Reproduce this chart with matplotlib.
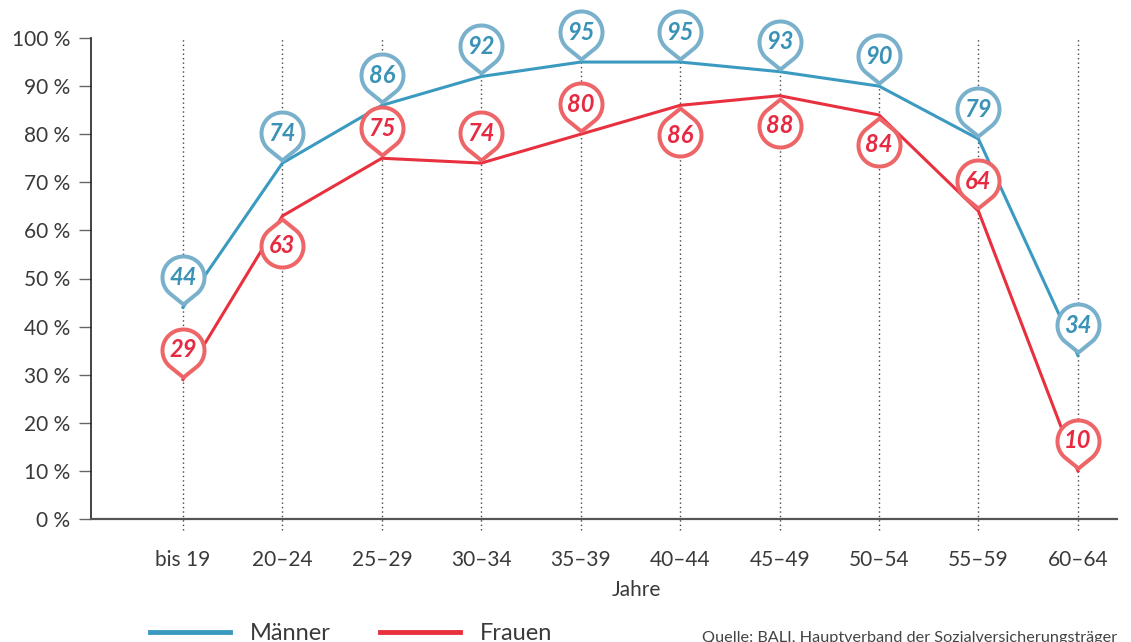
import numpy as np
import matplotlib.pyplot as plt
from matplotlib.path import Path
from matplotlib.markers import MarkerStyle

# =============================
# DATA
# =============================
categories = ["bis 19", "20–24", "25–29", "30–34", "35–39",
              "40–44", "45–49", "50–54", "55–59", "60–64"]
maenner = [44, 74, 86, 92, 95, 95, 93, 90, 79, 34]
frauen = [29, 63, 75, 74, 80, 86, 88, 84, 64, 10]

# pin direction for Frauen labels: True = pin sits below the line
frauen_below = [False, True, False, False, False, True, True, True, False, False]

# =============================
# STYLE
# =============================
BLUE_LINE = "#3b9ac0"
BLUE_PIN = "#79b0cc"
BLUE_TEXT = "#3a93b7"
RED_LINE = "#e8303f"
RED_PIN = "#ee6567"
RED_TEXT = "#e62a41"
TXT = "#3a3a3a"

PX = 0.72  # points per pixel at dpi 100
plt.rcParams["font.family"] = ["Lato", "DejaVu Sans"]

# pin geometry in pixels
PIN_R = 21.0      # circle radius (middle of border)
PIN_TIP = 27.0    # centre -> tip
PIN_C = 30.0      # data point -> centre
PIN_EDGE = 4.0


def pin_marker(below=False):
    # teardrop pin, origin = data point, tip pointing at it
    th = np.degrees(np.arccos(PIN_R / PIN_TIP))
    ang = np.radians(np.linspace(-90 + th, 270 - th, 90))
    verts = [(PIN_R * np.cos(a), PIN_C + PIN_R * np.sin(a)) for a in ang]
    verts.append((0, PIN_C - PIN_TIP))
    verts.append(verts[0])
    verts = np.array(verts)
    if below:
        verts[:, 1] *= -1
    codes = [Path.MOVETO] + [Path.LINETO] * (len(verts) - 2) + [Path.CLOSEPOLY]
    return MarkerStyle(Path(verts, codes), joinstyle="round")


PIN_SIZE = 2 * (PIN_C + PIN_R) * PX
PIN_OFF = PIN_C * PX

fig = plt.figure(figsize=(11.31, 6.42), dpi=100)
ax = fig.add_axes([91 / 1131, 1 - 519 / 642, (1117 - 91) / 1131, (519 - 38) / 642])

x = np.arange(len(categories))

# dotted guides
for xi in x:
    ax.plot([xi, xi], [-2.3, 100], ls=(0, (1, 2.2)), color="#444444", lw=1.0,
            clip_on=False, zorder=1)

ax.plot(x, maenner, color=BLUE_LINE, lw=2.2, zorder=3, label="Männer")
ax.plot(x, frauen, color=RED_LINE, lw=2.2, zorder=3, label="Frauen")


def draw_pins(vals, below_flags, pin_col, txt_col):
    for xi, v, below in zip(x, vals, below_flags):
        ax.plot(xi, v, marker=pin_marker(below), markersize=PIN_SIZE,
                mfc="white", mec=pin_col, mew=PIN_EDGE * PX, zorder=5,
                ls="none", clip_on=False)
        off = -PIN_OFF if below else PIN_OFF
        ax.annotate(str(v), (xi, v), xytext=(0, off), textcoords="offset points",
                    ha="center", va="center", color=txt_col, fontsize=17,
                    fontweight="bold", fontstyle="italic", zorder=6,
                    annotation_clip=False)


draw_pins(maenner, [False] * len(maenner), BLUE_PIN, BLUE_TEXT)
draw_pins(frauen, frauen_below, RED_PIN, RED_TEXT)

# =============================
# AXES
# =============================
ax.set_xlim(-0.925, 9.393)
ax.set_ylim(0, 100)

ax.set_yticks(range(0, 101, 10))
ax.set_yticklabels([f"{t} %" for t in range(0, 101, 10)])
ax.tick_params(axis="y", length=9, width=1, color="#666666", pad=6,
               labelsize=15, labelcolor=TXT)

ax.set_xticks(x)
ax.set_xticklabels(categories)
ax.tick_params(axis="x", length=0, pad=22, labelsize=15, labelcolor=TXT)

for s in ["top", "right"]:
    ax.spines[s].set_visible(False)
ax.spines["left"].set_color("#222222")
ax.spines["left"].set_linewidth(1.2)
ax.spines["bottom"].set_color("#555555")
ax.spines["bottom"].set_linewidth(1.6)

fig.text(636 / 1131, 1 - 590 / 642, "Jahre", ha="center", va="center",
         fontsize=15, color=TXT)

# legend
leg = fig.legend(loc="center left", bbox_to_anchor=(150 / 1131, 1 - 634 / 642),
                 ncol=2, frameon=False, borderpad=0, borderaxespad=0,
                 handlelength=3.4, handletextpad=0.85, columnspacing=2.05,
                 prop={"size": 17})
for t in leg.get_texts():
    t.set_color(TXT)
for h in leg.get_lines():
    h.set_linewidth(3.5)

fig.text(1117 / 1131, 1 - 638 / 642,
         "Quelle: BALI, Hauptverband der Sozialversicherungsträger",
         ha="right", va="center", fontsize=11.7, color="#444444")

plt.savefig("out.png", dpi=100)
